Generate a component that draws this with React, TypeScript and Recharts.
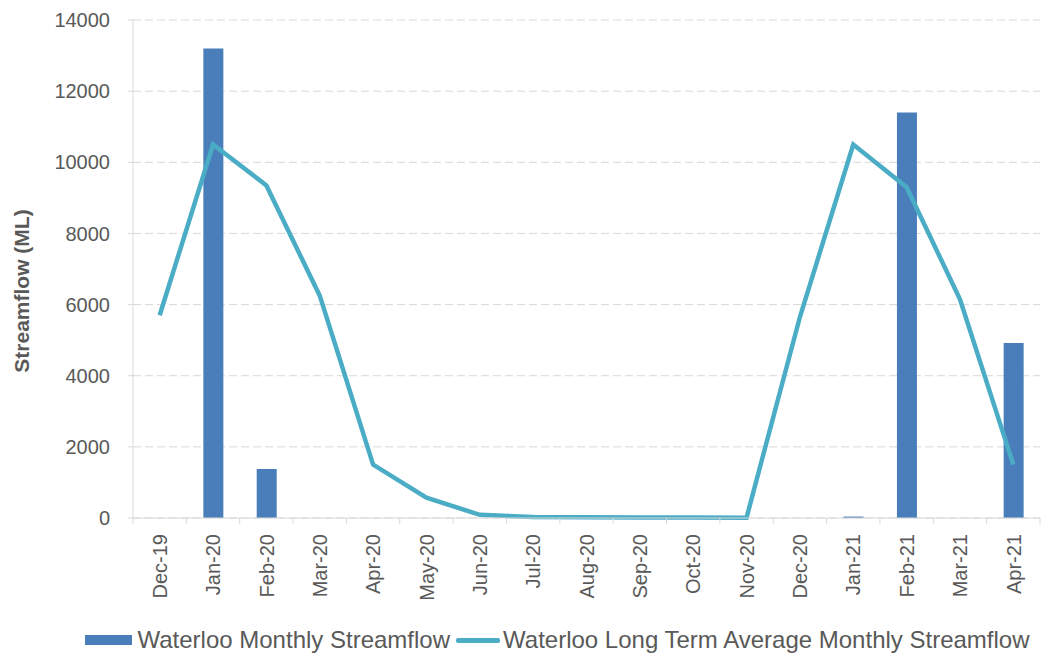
import React from "react";
import {
  ComposedChart,
  Bar,
  Line,
  XAxis,
  YAxis,
  CartesianGrid,
  Legend,
} from "recharts";

const months = [
  "Dec-19", "Jan-20", "Feb-20", "Mar-20", "Apr-20", "May-20", "Jun-20",
  "Jul-20", "Aug-20", "Sep-20", "Oct-20", "Nov-20", "Dec-20", "Jan-21",
  "Feb-21", "Mar-21", "Apr-21",
];
// monthly recorded flow (ML); null = no bar
const monthlyFlow = [
  null, 13200, 1380, null, null, null, null,
  null, null, null, null, null, null, 40,
  11400, null, 4920,
];
// long term average for the same calendar month (ML)
const longTermAvg = [
  5700, 10500, 9350, 6250, 1500, 570, 90,
  30, 20, 15, 15, 10, 5650, 10500,
  9300, 6150, 1500,
];
const yTicks = [0, 2000, 4000, 6000, 8000, 10000, 12000, 14000];

const BAR_NAME = "Waterloo Monthly Streamflow";
const LINE_NAME = "Waterloo Long Term Average Monthly Streamflow";
const BAR_COLOR = "#4A7EBB";
const LINE_COLOR = "#4BACC6";
const TEXT_COLOR = "#595959";
const AXIS_COLOR = "#D9D9D9";
const FONT = "'Liberation Sans', Arial, sans-serif";

const data = months.map((month, i) => ({
  month,
  flow: monthlyFlow[i],
  average: longTermAvg[i],
}));

const TICK_SIZE = 6;
const TICK_MARGIN = 10;

// month label rotated upward, with tick marks between categories
const MonthTick = (props: any) => {
  const { x, y, payload, width, visibleTicksCount, index } = props;
  const band = width / visibleTicksCount;
  const axisY = y - TICK_MARGIN - TICK_SIZE;
  const left = x - band / 2;
  return (
    <g>
      <line x1={left} x2={left} y1={axisY} y2={axisY + TICK_SIZE} stroke={AXIS_COLOR} />
      {index === visibleTicksCount - 1 && (
        <line x1={left + band} x2={left + band} y1={axisY} y2={axisY + TICK_SIZE} stroke={AXIS_COLOR} />
      )}
      <text
        x={x}
        y={y}
        transform={`rotate(-90 ${x} ${y})`}
        textAnchor="end"
        dy="0.36em"
        fill={TEXT_COLOR}
        fontSize={20}
        fontFamily={FONT}
      >
        {payload.value}
      </text>
    </g>
  );
};

const AxisTitle = (props: any) => {
  const { viewBox } = props;
  const cx = viewBox.x + 21;
  const cy = viewBox.y + viewBox.height / 2 + 22;
  return (
    <text
      x={cx}
      y={cy}
      transform={`rotate(-90 ${cx} ${cy})`}
      textAnchor="middle"
      dy="0.36em"
      fill={TEXT_COLOR}
      fontSize={21}
      fontWeight="bold"
      fontFamily={FONT}
    >
      Streamflow (ML)
    </text>
  );
};

const LegendRow = () => (
  <div
    style={{
      display: "flex",
      alignItems: "center",
      justifyContent: "center",
      paddingLeft: 75,
      height: 44,
      fontFamily: FONT,
      fontSize: 24,
      color: TEXT_COLOR,
      whiteSpace: "nowrap",
    }}
  >
    <span style={{ width: 47, height: 10, background: BAR_COLOR, marginRight: 5 }} />
    <span style={{ marginRight: 6 }}>{BAR_NAME}</span>
    <span style={{ width: 44, height: 5, background: LINE_COLOR, marginRight: 3, borderRadius: 2 }} />
    <span>{LINE_NAME}</span>
  </div>
);

export default function App() {
  return (
    <div style={{ position: "absolute", left: 0, top: 0, background: "#fff" }}>
      <ComposedChart
        width={1043}
        height={662}
        data={data}
        margin={{ top: 20, right: 3, bottom: 0, left: 0 }}
      >
        <CartesianGrid
          vertical={false}
          stroke={AXIS_COLOR}
          strokeDasharray="8 4"
        />
        <XAxis
          dataKey="month"
          interval={0}
          height={100}
          tickLine={false}
          tickSize={TICK_SIZE}
          tickMargin={TICK_MARGIN}
          stroke={AXIS_COLOR}
          tick={<MonthTick />}
        />
        <YAxis
          width={133}
          domain={[0, 14000]}
          ticks={yTicks}
          interval={0}
          tickSize={5}
          tickMargin={18}
          stroke={AXIS_COLOR}
          tick={{ fill: TEXT_COLOR, fontSize: 20, fontFamily: FONT }}
          label={<AxisTitle />}
        />
        <Legend verticalAlign="bottom" height={44} content={<LegendRow />} />
        <Bar
          dataKey="flow"
          name={BAR_NAME}
          fill={BAR_COLOR}
          barSize={20}
          isAnimationActive={false}
        />
        <Line
          dataKey="average"
          name={LINE_NAME}
          type="linear"
          stroke={LINE_COLOR}
          strokeWidth={4.5}
          dot={false}
          activeDot={false}
          isAnimationActive={false}
        />
      </ComposedChart>
    </div>
  );
}
